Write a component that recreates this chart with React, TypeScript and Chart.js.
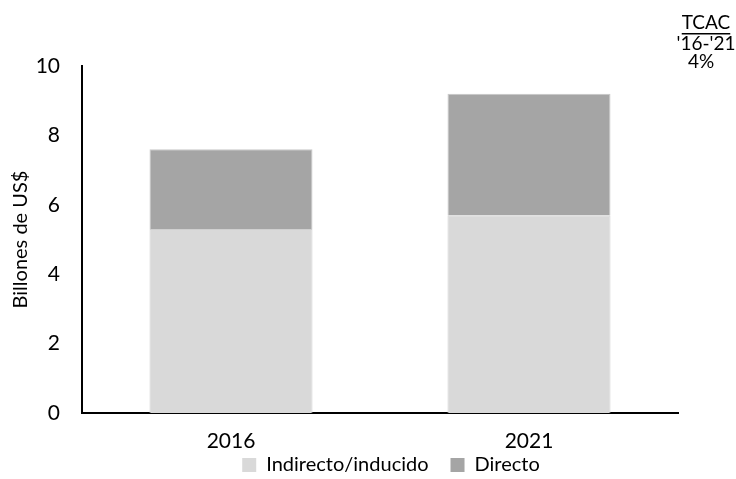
import React, { useEffect, useRef } from "react";
import { Chart, registerables } from "chart.js";

Chart.register(...registerables);

const categories = ["2016", "2021"];
const indirecto = [5.3, 5.7];
const directo = [2.3, 3.5];
const yTicks = [0, 2, 4, 6, 8, 10];
const seriesNames = ["Indirecto/inducido", "Directo"];
const cagrLines = ["TCAC", "'16-'21", "4%"];

const FONT = "Lato, 'Open Sans', sans-serif";

const cagrPlugin = {
  id: "cagr",
  afterLayout(chart: any) {
    const lg = chart.legend;
    if (lg) {
      const shift = 391 - (lg.left + lg.right) / 2;
      lg.left += shift;
      lg.right += shift;
    }
  },
  afterDraw(chart: any) {
    const ctx = chart.ctx;
    ctx.save();
    ctx.fillStyle = "#000";
    ctx.font = `19px ${FONT}`;
    ctx.textAlign = "center";
    ctx.textBaseline = "middle";
    const xs = [706, 706, 701];
    const ys = [23, 44, 62];
    cagrLines.forEach((t, i) => {
      ctx.fillText(t, xs[i], ys[i]);
      if (i === 0) {
        const w = ctx.measureText(t).width;
        ctx.fillRect(xs[i] - w / 2, 33, w, 1.5);
      }
    });
    ctx.restore();
  },
};

export default function App() {
  const ref = useRef<HTMLCanvasElement>(null);
  useEffect(() => {
    document.body.style.margin = "0";
    const chart = new Chart(ref.current!, {
      type: "bar",
      data: {
        labels: categories,
        datasets: [
          {
            label: seriesNames[0],
            data: indirecto,
            backgroundColor: "#d9d9d9",
            borderColor: "#d0d0d0",
            borderWidth: 1,
            categoryPercentage: 0.547,
            barPercentage: 1,
          },
          {
            label: seriesNames[1],
            data: directo,
            backgroundColor: "#a5a5a5",
            borderColor: "#c8c8c8",
            borderWidth: 1,
            categoryPercentage: 0.547,
            barPercentage: 1,
          },
        ],
      },
      options: {
        animation: false,
        responsive: false,
        maintainAspectRatio: false,
        layout: { padding: { top: 66, right: 58, left: 7, bottom: -6 } },
        plugins: {
          legend: {
            position: "bottom",
            labels: {
              boxWidth: 14,
              boxHeight: 14,
              padding: 2,
              color: "#000",
              font: { family: FONT, size: 20 },
              generateLabels: (ch: any) =>
                ch.data.datasets.map((ds: any, i: number) => ({
                  text: i === 0 ? ds.label + "\u2002\u2002" : ds.label,
                  fillStyle: ds.backgroundColor,
                  strokeStyle: ds.backgroundColor,
                  lineWidth: 0,
                  fontColor: "#000",
                  hidden: false,
                  datasetIndex: i,
                })),
            },
          },
          tooltip: { enabled: false },
        },
        scales: {
          x: {
            stacked: true,
            grid: { display: false, drawTicks: false },
            border: { color: "#000", width: 2 },
            ticks: { color: "#000", font: { family: FONT, size: 21 }, padding: 16 },
            afterFit: (s: any) => {
              s.height = 40;
            },
          },
          y: {
            stacked: true,
            min: 0,
            max: 10,
            afterBuildTicks: (axis: any) => {
              axis.ticks = yTicks.map((v) => ({ value: v }));
            },
            afterFit: (s: any) => {
              s.width = 75;
            },
            grid: { display: false, drawTicks: false },
            border: { color: "#000", width: 2 },
            ticks: { color: "#000", font: { family: FONT, size: 21 }, padding: 22 },
            title: {
              display: true,
              text: "Billones de US$",
              color: "#000",
              font: { family: FONT, size: 20 },
              padding: { top: 2, bottom: 2 },
            },
          },
        },
      },
      plugins: [cagrPlugin],
    });
    return () => chart.destroy();
  }, []);
  return (
    <div style={{ position: "fixed", left: 0, top: 0, width: 736, height: 479 }}>
      <canvas ref={ref} width={736} height={479} style={{ width: 736, height: 479 }} />
    </div>
  );
}
